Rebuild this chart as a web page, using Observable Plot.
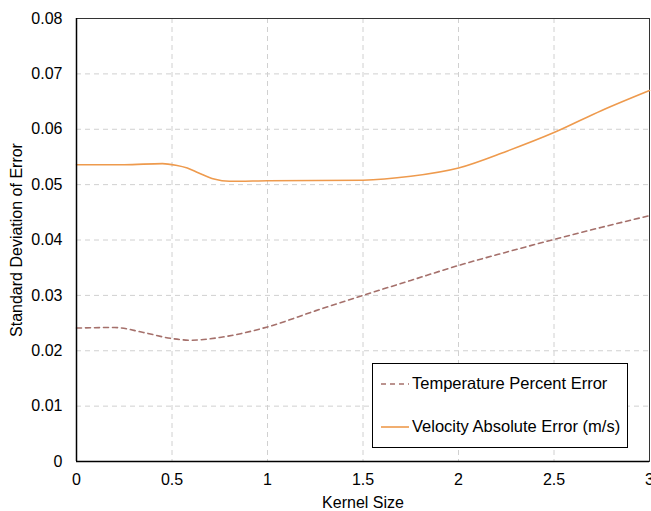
<!DOCTYPE html>
<html>
<head>
<meta charset="utf-8">
<script src="https://cdn.jsdelivr.net/npm/d3@7"></script>
<script src="https://cdn.jsdelivr.net/npm/@observablehq/plot@0.6"></script>
<style>
  html, body { margin: 0; padding: 0; background: #fff; }
  #wrap { position: relative; width: 651px; height: 511px; font-family: "Liberation Sans", Arial, sans-serif; }
  #legend { position: absolute; left: 372px; top: 363px; width: 256px; height: 85px; border: 1px solid #000; background: #fff; box-sizing: border-box; }
  .row { position: absolute; left: 8px; display: flex; align-items: center; font-size: 16.5px; color: #000; white-space: nowrap; }
  .row svg { margin-right: 3px; }
</style>
</head>
<body>
<div id="wrap"><div id="legend"></div></div>
<script>
// Series data
const tempX = [0, 0.2, 0.35, 0.5, 0.6, 0.75, 1.0, 1.25, 1.5, 1.75, 2.0, 2.25, 2.5, 2.75, 3.0];
const tempY = [0.0241, 0.0242, 0.0233, 0.0222, 0.0219, 0.0224, 0.0243, 0.0272, 0.0300, 0.0327, 0.0354, 0.0378, 0.0401, 0.0423, 0.0444];
const velX = [0, 0.25, 0.45, 0.52, 0.58, 0.64, 0.72, 0.8, 1.0, 1.5, 1.75, 2.0, 2.25, 2.5, 2.75, 3.0];
const velY = [0.0536, 0.0536, 0.0538, 0.0535, 0.0530, 0.0521, 0.0510, 0.0506, 0.0507, 0.0508, 0.0515, 0.0530, 0.0560, 0.0594, 0.0634, 0.0670];
const seriesNames = ["Temperature Percent Error", "Velocity Absolute Error (m/s)"];
const seriesColors = ["#a5706b", "#ee9a4d"];
const xTicks = [0, 0.5, 1, 1.5, 2, 2.5, 3];
const yTicks = [0, 0.01, 0.02, 0.03, 0.04, 0.05, 0.06, 0.07, 0.08];

const temp = tempX.map((x, i) => ({x, y: tempY[i]}));
const vel = velX.map((x, i) => ({x, y: velY[i]}));

const chart = Plot.plot({
  width: 651,
  height: 511,
  marginLeft: 76,
  marginRight: 2,
  marginTop: 18,
  marginBottom: 50,
  style: { fontFamily: "Liberation Sans, Arial, sans-serif", fontSize: "16px", color: "#000", background: "#fff", overflow: "visible" },
  x: { domain: [0, 3], ticks: xTicks, tickSize: 0, tickPadding: 12, label: "Kernel Size", labelAnchor: "center", labelArrow: "none", labelOffset: 46, tickFormat: d => String(d) },
  y: { domain: [0, 0.08], ticks: yTicks, tickSize: 0, tickPadding: 14, label: "Standard Deviation of Error", labelAnchor: "center", labelArrow: "none", labelOffset: 66, tickFormat: d => d === 0 ? "0" : d.toFixed(2) },
  marks: [
    Plot.gridX(xTicks, { stroke: "#d0d0d0", strokeOpacity: 1, strokeDasharray: "5,4", strokeWidth: 1 }),
    Plot.gridY(yTicks, { stroke: "#d0d0d0", strokeOpacity: 1, strokeDasharray: "5,4", strokeWidth: 1 }),
    Plot.frame({ stroke: "#333", strokeWidth: 1 }),
    Plot.line(temp, { x: "x", y: "y", curve: "monotone-x", stroke: seriesColors[0], strokeWidth: 1.6, strokeDasharray: "5,4" }),
    Plot.line(vel, { x: "x", y: "y", curve: "monotone-x", stroke: seriesColors[1], strokeWidth: 1.6 }),
    Plot.ruleX([0], { stroke: "#000", strokeWidth: 1.5 }),
    Plot.ruleY([0], { stroke: "#000", strokeWidth: 1.5 })
  ]
});
document.getElementById("wrap").prepend(chart);

const legend = document.getElementById("legend");
seriesNames.forEach((name, i) => {
  const row = document.createElement("div");
  row.className = "row";
  row.style.top = (i === 0 ? 10 : 53) + "px";
  row.innerHTML = `<svg width="28" height="4"><line x1="0" x2="28" y1="2" y2="2" stroke="${seriesColors[i]}" stroke-width="1.6" ${i === 0 ? 'stroke-dasharray="5,4"' : ''}/></svg><span>${name}</span>`;
  legend.appendChild(row);
});
</script>
</body>
</html>
